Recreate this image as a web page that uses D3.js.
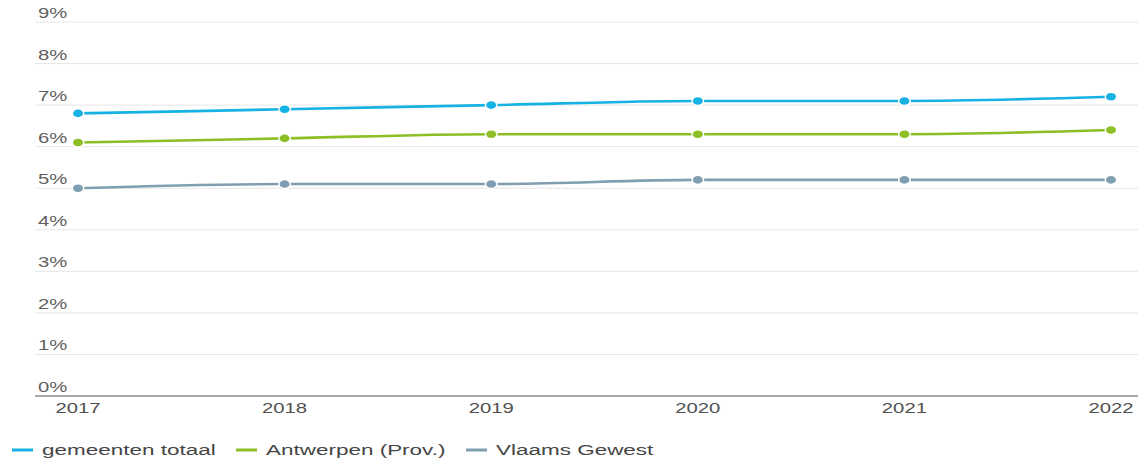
<!DOCTYPE html>
<html><head><meta charset="utf-8">
<script src="https://cdn.jsdelivr.net/npm/d3@7"></script>
<style>body{margin:0;background:#fff}svg{display:block}text{font-family:"Liberation Sans",Arial,sans-serif}</style>
</head><body><svg id="c" width="1138" height="459"></svg>
<script>
const years = ["2017","2018","2019","2020","2021","2022"];
const gemeentenTotaal = [6.8, 6.9, 7.0, 7.1, 7.1, 7.2];
const antwerpenProv = [6.1, 6.2, 6.3, 6.3, 6.3, 6.4];
const vlaamsGewest = [5.0, 5.1, 5.1, 5.2, 5.2, 5.2];
const yTicks = [0,1,2,3,4,5,6,7,8,9];
const seriesNames = ["gemeenten totaal","Antwerpen (Prov.)","Vlaams Gewest"];
const seriesColors = ["#16b2e3","#8dbf25","#7f9fb0"];
const series = [gemeentenTotaal, antwerpenProv, vlaamsGewest];

const svg = d3.select("#c");
const x = d3.scalePoint().domain(years).range([78,1111]);
const y = d3.scaleLinear().domain([0,9]).range([396,22]);

const g = svg.append("g");
g.selectAll("line.grid").data(yTicks.filter(d=>d>0)).join("line")
  .attr("x1",35).attr("x2",1138).attr("y1",d=>y(d)).attr("y2",d=>y(d))
  .attr("stroke","#e6e6e6").attr("stroke-width",1);
g.selectAll("text.yl").data(yTicks).join("text")
  .attr("transform",d=>`translate(38,${y(d)-4}) scale(1.45,1)`)
  .attr("font-size",14).attr("fill","#5f5f5f").text(d=>d+"%");
svg.append("line").attr("x1",35).attr("x2",1138).attr("y1",y(0)).attr("y2",y(0))
  .attr("stroke","#8a8a8a").attr("stroke-width",1.5);
svg.selectAll("text.xl").data(years).join("text")
  .attr("transform",d=>`translate(${x(d)},413) scale(1.4,1)`)
  .attr("text-anchor","middle").attr("font-size",14.5).attr("fill","#505050").text(d=>d);

const line = d3.line().x((d,i)=>x(years[i])).y(d=>y(d)).curve(d3.curveMonotoneX);
series.forEach((s,k)=>{
  svg.append("path").attr("d",line(s)).attr("fill","none")
    .attr("stroke",seriesColors[k]).attr("stroke-width",2.6);
  svg.selectAll(null).data(s).join("ellipse")
    .attr("cx",(d,i)=>x(years[i])).attr("cy",d=>y(d))
    .attr("rx",5).attr("ry",3.8).attr("fill",seriesColors[k])
    .attr("stroke","#fff").attr("stroke-width",3).attr("paint-order","stroke");
});

const legX = [12, 236, 466];
seriesNames.forEach((n,k)=>{
  svg.append("line").attr("x1",legX[k]).attr("x2",legX[k]+21).attr("y1",450).attr("y2",450)
    .attr("stroke",seriesColors[k]).attr("stroke-width",3);
  svg.append("text").attr("transform",`translate(${legX[k]+30},455) scale(1.55,1)`)
    .attr("font-size",14.5).attr("fill","#454545").text(n);
});
</script></body></html>
